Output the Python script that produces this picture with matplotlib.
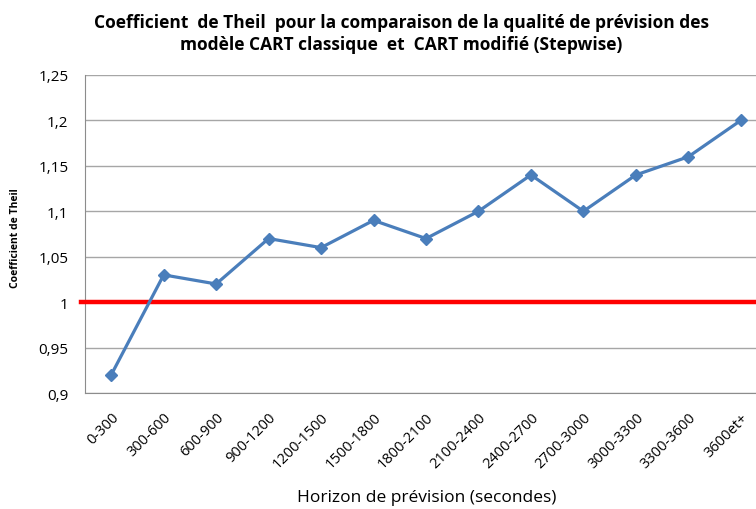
import matplotlib.pyplot as plt

plt.rcParams['font.family'] = ['Open Sans', 'DejaVu Sans']

# categories and values
horizons = ["0-300", "300-600", "600-900", "900-1200", "1200-1500", "1500-1800",
            "1800-2100", "2100-2400", "2400-2700", "2700-3000", "3000-3300",
            "3300-3600", "3600et+"]
theil = [0.92, 1.03, 1.02, 1.07, 1.06, 1.09, 1.07, 1.10, 1.14, 1.10, 1.14, 1.16, 1.20]
yticks = [0.9, 0.95, 1.0, 1.05, 1.1, 1.15, 1.2, 1.25]
reference = 1.0

fig = plt.figure(figsize=(7.56, 5.10), dpi=100)
W, H = 756, 510
ax = fig.add_axes([85 / W, 1 - 394 / H, 1 - 85 / W, (394 - 76) / H])

x = list(range(len(horizons)))

# horizontal grid
ax.set_ylim(0.9, 1.25)
ax.set_yticks(yticks)
ax.set_yticklabels([f"{v:g}".replace(".", ",") for v in yticks], fontsize=11)
ax.yaxis.grid(True, color="#a6a6a6", linewidth=1)
ax.set_axisbelow(True)

# reference line at 1, slightly overhanging the axis like the original
ax.axhline(reference, xmin=-0.006, xmax=1, color="#ff0000", linewidth=3.2,
           clip_on=False, zorder=3)

ax.plot(x, theil, color="#4a7ebb", linewidth=2.3, marker="D", markersize=6.5,
        zorder=4)

ax.set_xlim(-0.5, (756 - 112) / 52.4)
ax.set_xticks(x)
ax.set_xticklabels(horizons, rotation=45, ha="right", rotation_mode="anchor",
                   fontsize=10.5)

ax.tick_params(length=0)
ax.tick_params(axis="y", pad=12)
ax.tick_params(axis="x", pad=12)
for s in ["top", "right"]:
    ax.spines[s].set_visible(False)
for s in ["left", "bottom"]:
    ax.spines[s].set_color("#8c8c8c")

ax.set_ylabel("Coefficient de Theil", fontsize=7.5, fontweight="bold")
ax.yaxis.set_label_coords(-64 / (W - 85), 0.49)

fig.text(427 / W, 1 - 498 / H, "Horizon de prévision (secondes)", fontsize=12.5,
         ha="center", va="center")

fig.text(401 / W, 1 - 34 / H,
         "Coefficient  de Theil  pour la comparaison de la qualité de prévision des\n"
         "modèle CART classique  et  CART modifié (Stepwise)",
         fontsize=12.5, fontweight="bold", ha="center", va="center", linespacing=1.35)

fig.savefig("out.png", dpi=100)
